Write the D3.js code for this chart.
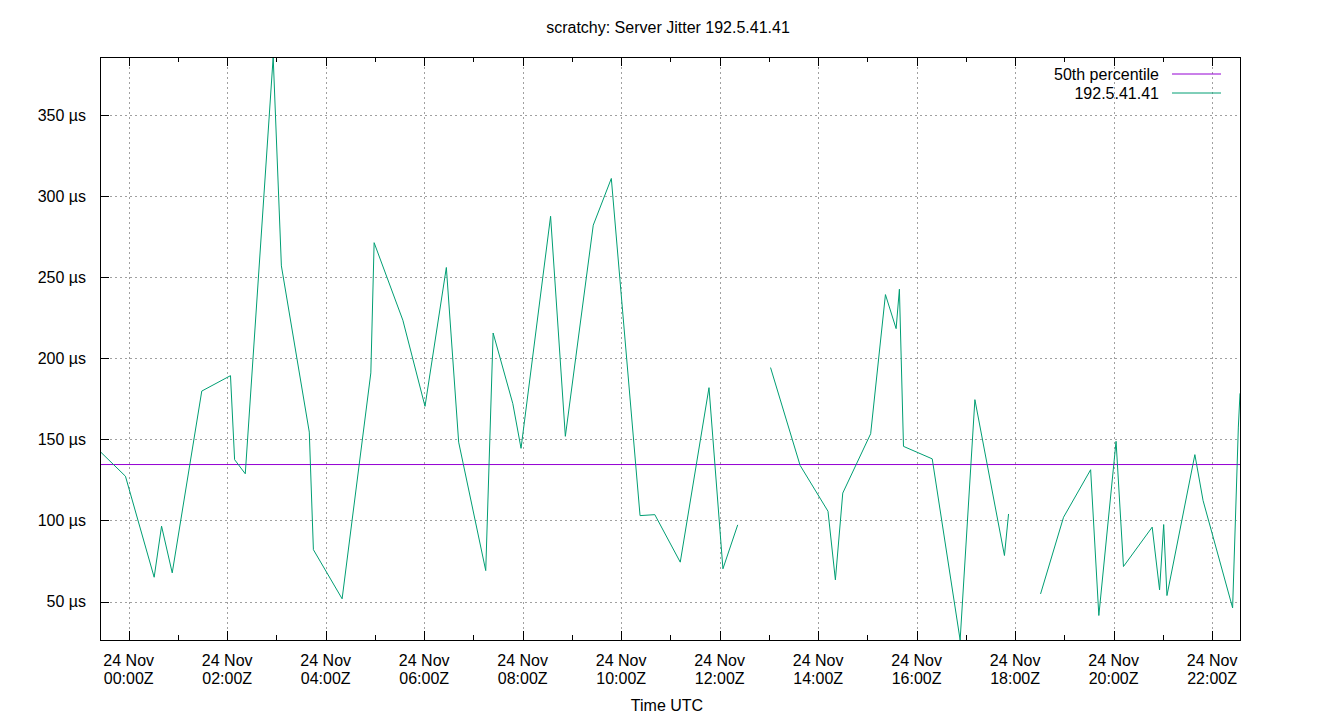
<!DOCTYPE html>
<html>
<head>
<meta charset="utf-8">
<script src="https://cdn.jsdelivr.net/npm/d3@7/dist/d3.min.js"></script>
<style>
  body { margin: 0; background: #fff; }
  text { font-family: "Liberation Sans", Arial, sans-serif; fill: #000; }
</style>
</head>
<body>
<svg id="chart" width="1340" height="720"></svg>
<script>
// ---- data ----
const title = "scratchy: Server Jitter 192.5.41.41";
const xLabel = "Time UTC";
const seriesName = "192.5.41.41";
const percentileName = "50th percentile";
const percentile50 = 134.5;
// sample times (UTC) ; null marks a gap in the data
const times = [
  "2023-11-23T23:25","2023-11-23T23:56","2023-11-24T00:31","2023-11-24T00:40","2023-11-24T00:53",
  "2023-11-24T01:29","2023-11-24T02:04","2023-11-24T02:09","2023-11-24T02:22","2023-11-24T02:56",
  "2023-11-24T03:06","2023-11-24T03:40","2023-11-24T03:45","2023-11-24T04:20","2023-11-24T04:55",
  "2023-11-24T04:59","2023-11-24T05:34","2023-11-24T06:01","2023-11-24T06:27","2023-11-24T06:42",
  "2023-11-24T07:15","2023-11-24T07:24","2023-11-24T07:48","2023-11-24T07:58","2023-11-24T08:34",
  "2023-11-24T08:52","2023-11-24T09:26","2023-11-24T09:48","2023-11-24T10:23","2023-11-24T10:41",
  "2023-11-24T11:12","2023-11-24T11:47","2023-11-24T12:04","2023-11-24T12:22","2023-11-24T12:42",
  "2023-11-24T13:02","2023-11-24T13:38","2023-11-24T14:12","2023-11-24T14:21","2023-11-24T14:30",
  "2023-11-24T15:04","2023-11-24T15:22","2023-11-24T15:35","2023-11-24T15:39","2023-11-24T15:44",
  "2023-11-24T16:19","2023-11-24T16:53","2023-11-24T17:11","2023-11-24T17:47","2023-11-24T17:52",
  "2023-11-24T18:10","2023-11-24T18:31","2023-11-24T18:59","2023-11-24T19:32","2023-11-24T19:42",
  "2023-11-24T20:03","2023-11-24T20:12","2023-11-24T20:47","2023-11-24T20:56","2023-11-24T21:01",
  "2023-11-24T21:05","2023-11-24T21:39","2023-11-24T21:49","2023-11-24T22:25","2023-11-24T22:32",
  "2023-11-24T22:34"
];
const jitter = [
  142.6, 127.3, 65.0, 96.5, 67.7,
  179.8, 189.3, 137.5, 128.8, 385.8,
  257.0, 154.5, 82.0, 51.7, 191.0,
  271.3, 223.5, 170.4, 256.0, 148.3,
  69.1, 215.6, 172.0, 144.5, 287.6,
  151.9, 282.1, 310.9, 103.0, 103.6,
  74.3, 181.9, 70.2, 97.3, null,
  194.3, 134.0, 105.7, 63.4, 116.9,
  153.5, 239.3, 218.3, 242.6, 145.7,
  138.0, 26.3, 174.5, 78.4, 104.0,
  null, 54.7, 102.0, 131.3, 41.4,
  148.8, 71.6, 95.9, 57.2, 97.5,
  53.7, 140.6, 112.3, 46.1, 157.6,
  178.4
];
const yTicks = [50, 100, 150, 200, 250, 300, 350];
const xTickHours = [0, 2, 4, 6, 8, 10, 12, 14, 16, 18, 20, 22];

// ---- layout ----
const svg = d3.select("#chart");
const L = 100, R = 1240, T = 57, B = 640;
const FS = 16;
const parse = d3.utcParse("%Y-%m-%dT%H:%M");
const pts = times.map((t, i) => ({ t: parse(t), v: jitter[i] }));
const defined = pts.filter(d => d.v !== null);

const x = d3.scaleUtc()
  .domain(d3.extent(pts, d => d.t))
  .range([L, R]);
const y = d3.scaleLinear()
  .domain(d3.extent(defined, d => d.v))
  .range([B, T]);

const day = Date.UTC(2023, 10, 24);
const majorTicks = xTickHours.map(h => new Date(day + h * 3600e3));
const minorTicks = d3.range(-1, 23, 2).map(h => new Date(day + h * 3600e3))
  .filter(d => x(d) >= L && x(d) <= R);

const grid = svg.append("g").attr("stroke", "#a0a0a0").attr("stroke-width", 1)
  .attr("stroke-dasharray", "2,3").attr("shape-rendering", "crispEdges");
yTicks.forEach(v => {
  grid.append("line").attr("x1", L).attr("x2", R)
    .attr("y1", Math.round(y(v)) + 0.5).attr("y2", Math.round(y(v)) + 0.5);
});
majorTicks.forEach(d => {
  grid.append("line").attr("y1", T).attr("y2", B)
    .attr("x1", Math.round(x(d)) + 0.5).attr("x2", Math.round(x(d)) + 0.5);
});

// percentile line
svg.append("line")
  .attr("x1", L).attr("x2", R)
  .attr("y1", y(percentile50)).attr("y2", y(percentile50))
  .attr("stroke", "#9400d3").attr("stroke-width", 1);

// data line
const line = d3.line()
  .defined(d => d.v !== null)
  .x(d => x(d.t)).y(d => y(d.v));
svg.append("path").datum(pts)
  .attr("d", line)
  .attr("fill", "none").attr("stroke", "#009e73").attr("stroke-width", 1);

// border
svg.append("rect").attr("x", L + 0.5).attr("y", T + 0.5)
  .attr("width", R - L).attr("height", B - T)
  .attr("fill", "none").attr("stroke", "#000").attr("stroke-width", 1)
  .attr("shape-rendering", "crispEdges");

// ticks (inward), mirrored on top for x
const tk = svg.append("g").attr("stroke", "#000").attr("stroke-width", 1)
  .attr("shape-rendering", "crispEdges");
majorTicks.forEach(d => {
  const px = Math.round(x(d)) + 0.5;
  tk.append("line").attr("x1", px).attr("x2", px).attr("y1", B).attr("y2", B - 9);
  tk.append("line").attr("x1", px).attr("x2", px).attr("y1", T).attr("y2", T + 9);
});
minorTicks.forEach(d => {
  const px = Math.round(x(d)) + 0.5;
  tk.append("line").attr("x1", px).attr("x2", px).attr("y1", B).attr("y2", B - 5);
  tk.append("line").attr("x1", px).attr("x2", px).attr("y1", T).attr("y2", T + 5);
});
yTicks.forEach(v => {
  const py = Math.round(y(v)) + 0.5;
  tk.append("line").attr("x1", L).attr("x2", L + 9).attr("y1", py).attr("y2", py);
});

// y tick labels
yTicks.forEach(v => {
  svg.append("text").attr("x", 86).attr("y", y(v) + 5.5)
    .attr("text-anchor", "end").attr("font-size", FS)
    .text(v + " µs");
});

// x tick labels
const fmtDay = d3.utcFormat("%d %b");
const fmtHour = d3.utcFormat("%H:%MZ");
majorTicks.forEach(d => {
  const t = svg.append("text").attr("x", x(d)).attr("y", 666)
    .attr("text-anchor", "middle").attr("font-size", FS);
  t.append("tspan").attr("x", x(d)).attr("dy", 0).text(fmtDay(d));
  t.append("tspan").attr("x", x(d)).attr("dy", 18).text(fmtHour(d));
});

// titles
svg.append("text").attr("x", 668).attr("y", 33).attr("text-anchor", "middle")
  .attr("font-size", FS).text(title);
svg.append("text").attr("x", 667).attr("y", 711).attr("text-anchor", "middle")
  .attr("font-size", FS).text(xLabel);

// legend
const legend = [
  { name: percentileName, color: "#9400d3" },
  { name: seriesName, color: "#009e73" }
];
legend.forEach((l, i) => {
  const ly = 74 + i * 19;
  svg.append("text").attr("x", 1159).attr("y", ly + 5.5).attr("text-anchor", "end")
    .attr("font-size", FS).text(l.name);
  svg.append("line").attr("x1", 1172).attr("x2", 1221).attr("y1", ly).attr("y2", ly)
    .attr("stroke", l.color).attr("stroke-width", 1);
});
</script>
</body>
</html>
